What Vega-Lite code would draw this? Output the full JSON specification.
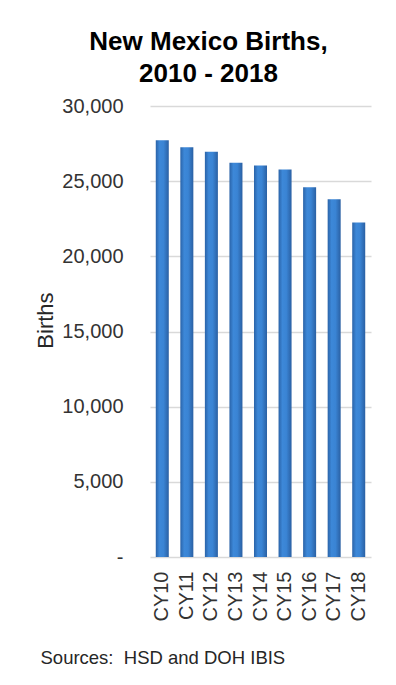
{
  "$schema": "https://vega.github.io/schema/vega-lite/v6.json",
  "autosize": {"type": "none"},
  "width": 221,
  "height": 451,
  "padding": {"left": 150, "top": 106, "right": 25, "bottom": 128},
  "background": "white",
  "config": {
    "font": "Liberation Sans",
    "view": {"stroke": null}
  },
  "title": {
    "text": ["New Mexico Births,", "2010 - 2018"],
    "font": "Liberation Sans",
    "fontSize": 26,
    "fontWeight": "bold",
    "color": "#000000",
    "lineHeight": 32,
    "anchor": "middle",
    "frame": "group",
    "baseline": "bottom",
    "dx": -52,
    "offset": -17
  },
  "data": {
    "values": [
      {"year": "CY10", "births": 27730},
      {"year": "CY11", "births": 27250},
      {"year": "CY12", "births": 26950},
      {"year": "CY13", "births": 26230},
      {"year": "CY14", "births": 26040},
      {"year": "CY15", "births": 25780},
      {"year": "CY16", "births": 24600},
      {"year": "CY17", "births": 23800},
      {"year": "CY18", "births": 22250}
    ]
  },
  "mark": {
    "type": "bar",
    "color": {
      "gradient": "linear",
      "x1": 0, "x2": 1, "y1": 0, "y2": 0,
      "stops": [
        {"offset": 0, "color": "#2a63a8"},
        {"offset": 0.3, "color": "#3d88d8"},
        {"offset": 0.6, "color": "#3a84d4"},
        {"offset": 1, "color": "#2a60a3"}
      ]
    }
  },
  "encoding": {
    "x": {
      "field": "year",
      "type": "nominal",
      "sort": null,
      "scale": {"paddingInner": 0.47, "paddingOuter": 0.235},
      "axis": {
        "labelAngle": 270,
        "labelFontSize": 20,
        "labelColor": "#333333",
        "labelPadding": 14,
        "ticks": false,
        "domain": false,
        "title": "Sources:\u00a0 HSD and DOH IBIS",
        "titleX": -110,
        "titleY": 106,
        "titleAlign": "left",
        "titleAnchor": "start",
        "titleBaseline": "alphabetic",
        "titleFontSize": 18.5,
        "titleFontWeight": "normal",
        "titleColor": "#262626"
      }
    },
    "y": {
      "field": "births",
      "type": "quantitative",
      "scale": {"domain": [0, 30000], "nice": false},
      "axis": {
        "values": [0, 5000, 10000, 15000, 20000, 25000, 30000],
        "labelExpr": "datum.value == 0 ? '-\u00a0\u00a0\u00a0' : format(datum.value, ',')",
        "labelFontSize": 20,
        "labelColor": "#333333",
        "labelPadding": 27,
        "ticks": false,
        "domain": false,
        "grid": true,
        "gridColor": "#d9d9d9",
        "gridWidth": 1.5,
        "title": "Births",
        "titleFontSize": 22,
        "titleFontWeight": "normal",
        "titleColor": "#262626",
        "titleAngle": 270,
        "titleAlign": "center",
        "titleBaseline": "alphabetic",
        "titleX": -98,
        "titleY": 214
      }
    }
  }
}
